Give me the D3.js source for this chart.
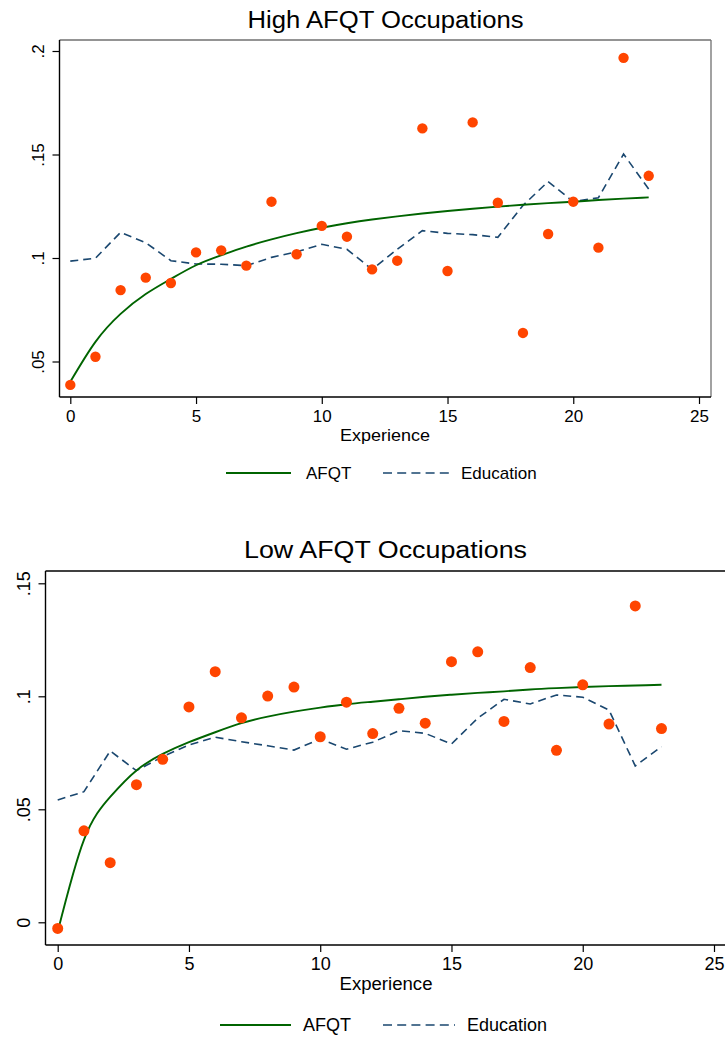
<!DOCTYPE html>
<html>
<head>
<meta charset="utf-8">
<script src="https://cdn.jsdelivr.net/npm/d3@7"></script>
<style>
  html, body { margin: 0; padding: 0; background: #fff; }
  svg { display: block; font-family: "Liberation Sans", Arial, sans-serif; }
</style>
</head>
<body>
<script>
// values (experience 0..23)
var experience = [0,1,2,3,4,5,6,7,8,9,10,11,12,13,14,15,16,17,18,19,20,21,22,23];

var highDots = [0.0387,0.0523,0.0845,0.0905,0.0879,0.1027,0.1037,0.0963,0.1272,0.1018,0.1155,0.1103,
                0.0945,0.0987,0.1626,0.0937,0.1655,0.1267,0.0638,0.1116,0.1272,0.1050,0.1967,0.1397];
var highEdu  = [0.0985,0.0999,0.1124,0.1074,0.0987,0.0971,0.0970,0.0963,0.1003,0.1030,0.1066,0.1042,
                0.0945,0.1042,0.1132,0.1119,0.1113,0.1100,0.1254,0.1369,0.1272,0.1291,0.1502,0.1333];
var highAfqt = [0.0402,0.0595,0.0730,0.0826,0.0899,0.0965,0.1013,0.1055,0.1090,0.1120,0.1146,0.1168,
                0.1186,0.1201,0.1215,0.1227,0.1238,0.1248,0.1257,0.1265,0.1272,0.1280,0.1287,0.1293];

var lowDots = [-0.0027,0.0405,0.0264,0.0609,0.0721,0.0953,0.1109,0.0905,0.1001,0.1041,0.0821,0.0974,
               0.0835,0.0947,0.0881,0.1153,0.1197,0.0889,0.1127,0.0761,0.1051,0.0877,0.1400,0.0857];
var lowEdu  = [0.0541,0.0578,0.0758,0.0671,0.0733,0.0785,0.0819,0.0799,0.0781,0.0762,0.0811,0.0766,
               0.0797,0.0848,0.0836,0.0789,0.0903,0.0987,0.0966,0.1006,0.0996,0.0939,0.0692,0.0777];
var lowAfqt = [-0.0042,0.0365,0.0555,0.0672,0.0745,0.0797,0.0841,0.0881,0.0910,0.0932,0.0950,0.0965,
               0.0976,0.0987,0.0998,0.1007,0.1015,0.1022,0.1030,0.1036,0.1041,0.1045,0.1048,0.1051];

var xTicks = [0,5,10,15,20,25];
var highYTicks = [0.05,0.1,0.15,0.2];
var highYLabels = [".05",".1",".15",".2"];
var lowYTicks = [0,0.05,0.1,0.15];
var lowYLabels = ["0",".05",".1",".15"];

var legendNames = ["AFQT","Education"];

var DOT = "#ff4500", GREEN = "#006400", NAVY = "#1a476f";

var svg = d3.select("body").append("svg")
    .attr("width", 725)
    .attr("height", 1038);

function drawPanel(p) {
  var g = svg.append("g");
  var x = d3.scaleLinear().domain([0, 25]).range(p.xr);
  var y = d3.scaleLinear().domain(p.yd).range(p.yr);

  // title
  g.append("text")
    .attr("x", 385.5).attr("y", p.titleY)
    .attr("text-anchor", "middle")
    .attr("font-size", p.titleSize)
    .attr("textLength", p.titleLen).attr("lengthAdjust", "spacingAndGlyphs")
    .text(p.title);

  // frame
  g.append("line").attr("x1", p.left).attr("x2", p.right).attr("y1", p.top).attr("y2", p.top)
    .attr("stroke", p.frameColor).attr("stroke-width", 1.3);
  g.append("line").attr("x1", p.right).attr("x2", p.right).attr("y1", p.top).attr("y2", p.bottom)
    .attr("stroke", p.frameColor).attr("stroke-width", 1.3);

  // x axis
  var xa = g.append("g").attr("transform", "translate(0," + p.bottom + ")")
    .call(d3.axisBottom(x).tickValues(xTicks).tickSize(7).tickSizeOuter(0).tickPadding(4));
  xa.select(".domain").remove();
  xa.selectAll(".tick line").attr("stroke", "#000").attr("stroke-width", 1.2);
  xa.selectAll(".tick text").attr("font-size", p.tickSize).attr("fill", "#000")
    .attr("font-family", "Liberation Sans, Arial, sans-serif")
    .attr("dy", null).attr("y", p.xLabBase - p.bottom);

  // y axis
  var ya = g.append("g").attr("transform", "translate(" + p.left + ",0)")
    .call(d3.axisLeft(y).tickValues(p.yTicks).tickSize(7).tickSizeOuter(0)
      .tickFormat(function(d, i) { return p.yLabels[i]; }));
  ya.select(".domain").remove();
  ya.selectAll(".tick line").attr("stroke", "#000").attr("stroke-width", 1.2);
  ya.selectAll(".tick text").attr("font-size", p.tickSize).attr("fill", "#000")
    .attr("font-family", "Liberation Sans, Arial, sans-serif")
    .attr("x", null).attr("dy", null)
    .attr("text-anchor", "middle")
    .attr("transform", "translate(" + (p.yLabBase - p.left) + ",0) rotate(-90)");

  g.append("line").attr("x1", p.left).attr("x2", p.left).attr("y1", p.top).attr("y2", p.bottom)
    .attr("stroke", "#000").attr("stroke-width", 1.4);
  g.append("line").attr("x1", p.left).attr("x2", p.right).attr("y1", p.bottom).attr("y2", p.bottom)
    .attr("stroke", "#000").attr("stroke-width", 1.4);

  // x title
  g.append("text")
    .attr("x", p.xTitleX).attr("y", p.xTitleY)
    .attr("text-anchor", "middle")
    .attr("font-size", p.tickSize)
    .attr("textLength", p.xTitleLen).attr("lengthAdjust", "spacingAndGlyphs")
    .text("Experience");

  // series
  var line = d3.line()
    .x(function(d, i) { return x(experience[i]); })
    .y(function(d) { return y(d); });

  g.append("path").datum(p.edu)
    .attr("d", line)
    .attr("fill", "none").attr("stroke", NAVY).attr("stroke-width", 1.6)
    .attr("stroke-dasharray", "8,5");

  g.append("path").datum(p.afqt)
    .attr("d", line.curve(d3.curveNatural))
    .attr("fill", "none").attr("stroke", GREEN).attr("stroke-width", 1.9);

  g.selectAll("circle.dot").data(p.dots).enter().append("circle")
    .attr("class", "dot")
    .attr("cx", function(d, i) { return x(experience[i]); })
    .attr("cy", function(d) { return y(d); })
    .attr("r", p.r)
    .attr("fill", DOT);

  // legend
  var lg = g.append("g").attr("transform", "translate(0," + p.legY + ")");
  lg.append("line").attr("x1", p.leg[0]).attr("x2", p.leg[1]).attr("y1", 0).attr("y2", 0)
    .attr("stroke", GREEN).attr("stroke-width", 1.9);
  lg.append("text").attr("x", p.leg[2]).attr("y", 0).attr("dy", "0.36em")
    .attr("font-size", p.tickSize).text(legendNames[0]);
  lg.append("line").attr("x1", p.leg[3]).attr("x2", p.leg[4]).attr("y1", 0).attr("y2", 0)
    .attr("stroke", NAVY).attr("stroke-width", 1.6).attr("stroke-dasharray", "9,5.2");
  lg.append("text").attr("x", p.leg[5]).attr("y", 0).attr("dy", "0.36em")
    .attr("font-size", p.tickSize).text(legendNames[1]);
}

drawPanel({
  title: "High AFQT Occupations", titleY: 28, titleSize: 23, titleLen: 276,
  left: 59.5, right: 711, top: 40, bottom: 397, frameColor: "#707070",
  xr: [70.3, 699], yd: [0.05, 0.2], yr: [361.5, 51],
  yTicks: highYTicks, yLabels: highYLabels,
  tickSize: 17, xLabBase: 421.5, yLabBase: 43.5,
  xTitleX: 385, xTitleY: 440.5, xTitleLen: 90,
  dots: highDots, edu: highEdu, afqt: highAfqt, r: 5.2,
  legY: 473, leg: [226, 291, 306, 383, 449, 461]
});

drawPanel({
  title: "Low AFQT Occupations", titleY: 558, titleSize: 23, titleLen: 283,
  left: 45.5, right: 726, top: 571, bottom: 945, frameColor: "#000",
  xr: [57.7, 714], yd: [0, 0.15], yr: [922.3, 583.3],
  yTicks: lowYTicks, yLabels: lowYLabels,
  tickSize: 18, xLabBase: 970, yLabBase: 29.5,
  xTitleX: 386, xTitleY: 990, xTitleLen: 93,
  dots: lowDots, edu: lowEdu, afqt: lowAfqt, r: 5.5,
  legY: 1025, leg: [220, 291, 303, 383, 455, 467]
});
</script>
</body>
</html>
